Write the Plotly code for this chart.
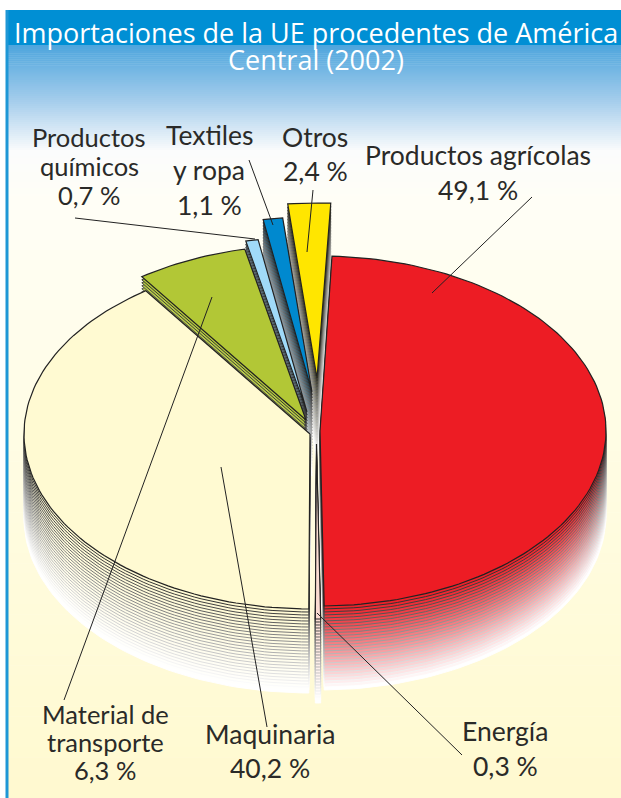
import math
import plotly.graph_objects as go

# --- data ---
categories = ["Productos agrícolas", "Energía", "Maquinaria", "Material de transporte",
              "Productos químicos", "Textiles y ropa", "Otros"]
shares = [49.1, 0.3, 40.2, 6.3, 0.7, 1.1, 2.4]
colors = ["#ED1C24", "#FBDCD2", "#FFFAD2", "#B2C736", "#A0DAF8", "#0089CF", "#FFE600"]
title_lines = ["Importaciones de la UE procedentes de América", "Central (2002)"]

# --- layout of the drawing (pie centre of each exploded slice, in picture units) ---
centres = [(320, 431), (316.5, 444), (310, 434), (306, 420), (307, 412), (312, 392), (317, 378)]
draw_order = [6, 5, 4, 3, 0, 2, 1]
start_deg, rx, ry, depth, layers = 2.4, 286, 175, 84, 28

label_text = ["Productos", "químicos", "0,7 %", "Textiles", "y ropa", "1,1 %", "Otros", "2,4 %",
              "Productos agrícolas", "49,1 %", "Material de", "transporte", "6,3 %",
              "Maquinaria", "40,2 %", "Energía", "0,3 %"]
label_x = [89, 89, 89, 209, 209, 209, 315, 315, 478, 478, 105, 105, 105, 270, 270, 505, 505]
label_y = [137, 166, 195, 135, 170, 205, 137, 171, 155, 190, 714, 742, 770, 734, 768, 731, 766]
label_size = [25.5, 25.5, 25.5, 26.5, 26.5, 26.5, 26.5, 26.5, 26.5, 26.5, 25.5, 25.5, 25.5, 26.5, 26.5, 26.5, 26.5]
leaders = [((532, 197), (432, 293)), ((313, 190), (307, 252)), ((249, 160), (273, 225)),
           ((75, 218), (255, 239)), ((212, 297), (64, 700)), ((221, 467), (267, 727)),
           ((317, 613), (462, 755))]


def mix(hex_a, hex_b, t):
    a = [int(hex_a[i:i + 2], 16) for i in (1, 3, 5)]
    b = [int(hex_b[i:i + 2], 16) for i in (1, 3, 5)]
    return "rgb(%d,%d,%d)" % tuple(round(p + (q - p) * t) for p, q in zip(a, b))


def wedge(cx, cy, a0, a1, dy):
    n = max(4, int((a1 - a0) / 1.5) + 2)
    xs, ys = [cx], [cy + dy]
    for k in range(n + 1):
        a = math.radians(a0 + (a1 - a0) * k / n)
        xs.append(cx + rx * math.sin(a))
        ys.append(cy + dy - ry * math.cos(a))
    xs.append(cx)
    ys.append(cy + dy)
    return xs, ys


fig = go.Figure()

# backdrop
left = 6
fig.add_trace(go.Scatter(x=[left, 621, 621, left, left], y=[10, 10, 45, 45, 10], mode="lines", fill="toself",
                         fillcolor="#008FD4", line=dict(width=0), hoverinfo="skip", showlegend=False))
steps = [(45, "#4FA6DD"), (100, "#A5CDEC"), (150, "#FBFCFC"), (200, "#FFFEF6"), (400, "#FFFDE6"), (798, "#FFF9CF")]
for (y0, c0), (y1, c1) in zip(steps, steps[1:]):
    n = max(6, (y1 - y0) // 2 if y1 <= 200 else (y1 - y0) // 10)
    for k in range(n):
        ya, yb = y0 + (y1 - y0) * k / n, y0 + (y1 - y0) * (k + 1) / n + 0.5
        fig.add_trace(go.Scatter(x=[left, 621, 621, left, left], y=[ya, ya, yb, yb, ya], mode="lines", fill="toself",
                                 fillcolor=mix(c0, c1, k / n), line=dict(width=0),
                                 hoverinfo="skip", showlegend=False))
fig.add_trace(go.Scatter(x=[7, 7], y=[10, 798], mode="lines", line=dict(color="#1E97D6", width=3),
                         hoverinfo="skip", showlegend=False))

# slices: stacked copies fading to white give the thickness
edges = [start_deg]
for s in shares:
    edges.append(edges[-1] + s * 3.6)
for idx in draw_order:
    cx, cy = centres[idx]
    for layer in range(layers, -1, -1):
        t = layer / layers
        xs, ys = wedge(cx, cy, edges[idx], edges[idx + 1], depth * t)
        fill = colors[idx] if layer == 0 else mix(colors[idx], "#FFFFFF", t ** 1.1)
        line = mix("#222222", "#FFFFFF", min(1, (t * 1.05) ** 0.78))
        fig.add_trace(go.Scatter(x=xs, y=ys, mode="lines", fill="toself", fillcolor=fill,
                                 line=dict(color=line, width=1.2 if layer == 0 else 1),
                                 name=categories[idx], hoverinfo="skip", showlegend=False))

# leader lines
for (a, b) in leaders:
    fig.add_trace(go.Scatter(x=[a[0], b[0]], y=[a[1], b[1]], mode="lines", line=dict(color="#222222", width=1),
                             hoverinfo="skip", showlegend=False))

notes = []
for text, y in zip(title_lines, [32, 59]):
    notes.append(dict(x=316, y=y, text=text, showarrow=False, xanchor="center", yanchor="middle",
                      font=dict(family="Open Sans", size=27, color="white")))
for text, x, y, size in zip(label_text, label_x, label_y, label_size):
    notes.append(dict(x=x, y=y, text=text, showarrow=False, xanchor="center", yanchor="middle",
                      font=dict(family="Lato", size=size, color="#2A2A28")))

fig.update_layout(width=621, height=798, margin=dict(l=0, r=0, t=0, b=0), autosize=False,
                  paper_bgcolor="white", plot_bgcolor="white", showlegend=False, annotations=notes,
                  xaxis=dict(range=[0, 621], visible=False, fixedrange=True),
                  yaxis=dict(range=[798, 0], visible=False, fixedrange=True))
fig.write_html("out.html", config=dict(displayModeBar=False),
               post_script="document.body.style.margin='0';document.documentElement.style.overflow='hidden';")
